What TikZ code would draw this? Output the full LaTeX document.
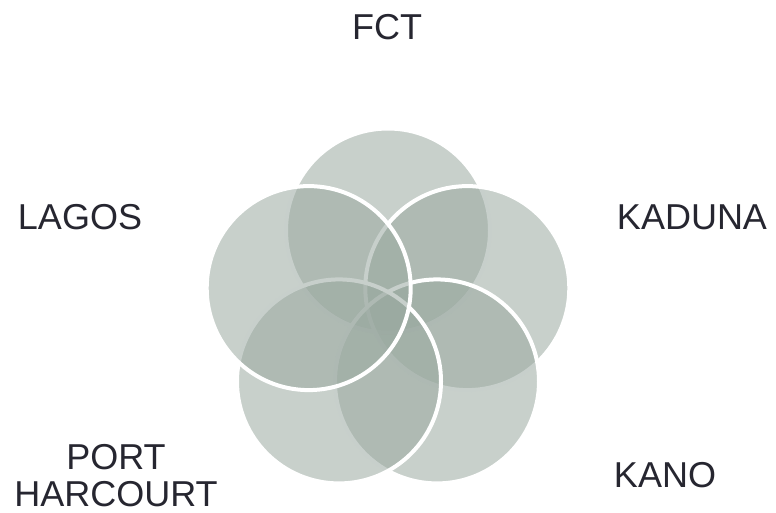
\documentclass[tikz,border=0pt]{standalone}
\usepackage{fontspec}
\setmainfont{Liberation Sans}
\definecolor{petal}{RGB}{153,168,159}
\definecolor{labeltext}{RGB}{38,38,48}
\begin{document}
\begin{tikzpicture}[x=1pt,y=-1pt,
  petalc/.style={fill=petal,fill opacity=0.54,draw=white,draw opacity=1,line width=4pt},
  lab/.style={font=\fontsize{36}{37}\selectfont,text=labeltext,inner sep=0pt,align=center,anchor=base}]
\useasboundingbox (0,0) rectangle (776,512);
\def\r{102}
\coordinate (cF) at (388,230.5);
\coordinate (cKd) at (467.3,288.1);
\coordinate (cKn) at (437,381.4);
\coordinate (cPH) at (339,381.4);
\coordinate (cL) at (308.7,288.1);
\draw[petalc] (cF) circle[radius=\r];
\draw[petalc] (cKd) circle[radius=\r];
\draw[petalc] (cKn) circle[radius=\r];
\draw[petalc] (cPH) circle[radius=\r];
\draw[petalc] (cL) circle[radius=\r];
\node[lab] (tF) at (387,39) {FCT};
\node[lab] (tL) at (80,229) {LAGOS};
\node[lab] (tKd) at (692,229) {KADUNA};
\node[lab] (tKn) at (665,487) {KANO};
\node[lab] (tPH) at (116,506) {PORT\\HARCOURT};
\end{tikzpicture}
\end{document}
